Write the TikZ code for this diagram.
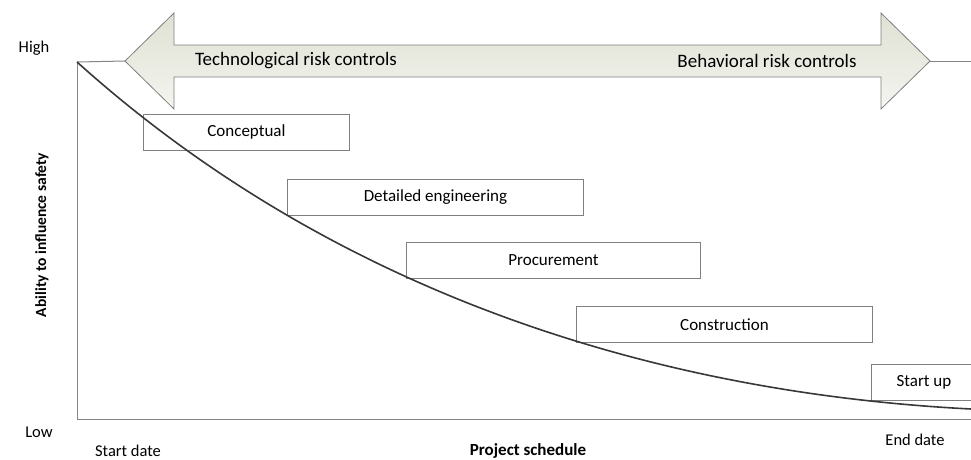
\documentclass[tikz,border=0pt]{standalone}
\usepackage{fontspec}
\setmainfont{Carlito}
\definecolor{axisgray}{HTML}{858585}
\definecolor{boxgray}{HTML}{7F7F7F}
\definecolor{curvegray}{HTML}{383838}
\definecolor{arrowtop}{HTML}{DEE1D3}
\definecolor{arrowbot}{HTML}{F4F5F0}
\begin{document}
\begin{tikzpicture}[x=1pt,y=-1pt,
  axisline/.style={draw=axisgray, line width=1pt},
  phase/.style={draw=boxgray, line width=0.9pt, anchor=north west,
    minimum height=36pt, inner sep=0pt, font=\fontsize{17}{19}\selectfont},
  axislabel/.style={font=\fontsize{16.5}{18}\selectfont, inner sep=0pt},
  axistitle/.style={font=\fontsize{17}{19}\selectfont\bfseries, inner sep=0pt},
  bandlabel/.style={font=\fontsize{19}{21}\selectfont, inner sep=0pt}]
\clip (0,0) rectangle (971,459);

% axes
\coordinate (top) at (77,62);
\coordinate (origin) at (77,419);
\coordinate (xend) at (980,419);
\coordinate (ltip) at (125,61);
\coordinate (rtip) at (930,61);
\coordinate (redge) at (980,61);
\draw[axisline] (top) -- (origin) -- (xend);
\draw[axisline] (top) -- (ltip);
\draw[axisline] (rtip) -- (redge);

% double-headed band
\path[draw=boxgray, line width=0.8pt, top color=arrowtop, bottom color=arrowbot]
  (ltip) -- (174,13) -- (174,45) -- (881,45) -- (881,13) -- (rtip)
  -- (881,109) -- (881,77) -- (174,77) -- (174,109) -- cycle;
\node[bandlabel] (tech) at (296,61) {Technological risk controls};
\node[bandlabel] (behav) at (767,61) {Behavioral risk controls};

% project phases
\node[phase, minimum width=206pt] (concept) at (143,114) {Conceptual};
\node[phase, minimum width=296pt] (detail) at (287,179) {Detailed engineering};
\node[phase, minimum width=294pt] (procure) at (406,242) {Procurement};
\node[phase, minimum width=296pt] (build) at (576,306) {Construction};
\node[phase, minimum width=105pt] (startup) at (871,364) {Start up};

% influence curve
\coordinate (cend) at (971,409);
\draw[draw=curvegray, line width=1.6pt] (top) .. controls (325,285) and (640,392) .. (cend);

% axis labels
\node[axislabel] (high) at (34,48) {High};
\node[axislabel] (low) at (39,432) {Low};
\node[axislabel] (startd) at (128,451) {Start date};
\node[axislabel] (endd) at (915,440) {End date};
\node[axistitle] (xtitle) at (528,451) {Project schedule};
\node[axistitle, rotate=90, font=\fontsize{15.5}{17}\selectfont\bfseries] (ytitle) at (42,235) {Ability to influence safety};
\end{tikzpicture}
\end{document}
